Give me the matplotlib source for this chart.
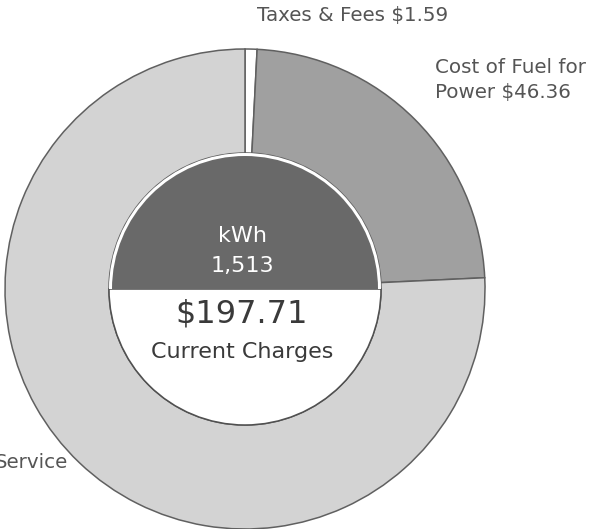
import matplotlib.pyplot as plt
from matplotlib.patches import Wedge

# bill breakdown
labels = ["Taxes & Fees", "Cost of Fuel for\nPower", "Service"]
amounts = [1.59, 46.36, 149.76]
total_charges = 197.71
kwh_used = 1513

ring_colors = ["#ffffff", "#a0a0a0", "#d3d3d3"]

W, H = 598, 529
fig = plt.figure(figsize=(W / 100, H / 100), dpi=100)
ax = fig.add_axes([0, 0, 1, 1])

cx, cy = 245, H - 289
r_out = 240
r_in = 136

ax.pie(amounts, radius=r_out, center=(cx, cy), startangle=90,
       counterclock=False, colors=ring_colors, frame=True,
       wedgeprops=dict(width=r_out - r_in, edgecolor="#606060", linewidth=1.1))
ax.set_xlim(0, W)
ax.set_ylim(0, H)
ax.set_aspect("equal")
ax.axis("off")

# centre disc: dark top half for usage, white bottom half for the total
ax.add_patch(Wedge((cx, cy), r_in, 180, 360, facecolor="white",
                   edgecolor="#505050", linewidth=1.1, zorder=3))
ax.add_patch(Wedge((cx, cy), r_in, 0, 180, facecolor="white",
                   edgecolor="none", zorder=3))
ax.add_patch(Wedge((cx, cy), r_in - 3, 0, 180, facecolor="#696969",
                   edgecolor="none", zorder=3))

font = "DejaVu Sans"
ax.text(cx - 3, H - 236, "kWh", ha="center", va="center", fontsize=16,
        color="white", family=font, zorder=4)
ax.text(cx - 3, H - 266, f"{kwh_used:,}", ha="center", va="center", fontsize=16,
        color="white", family=font, zorder=4)
ax.text(cx - 3, H - 314, f"${total_charges:,.2f}", ha="center", va="center",
        fontsize=23, color="#3a3a3a", family=font, zorder=4)
ax.text(cx - 3, H - 352, "Current Charges", ha="center", va="center",
        fontsize=16, color="#3a3a3a", family=font, zorder=4)

# slice labels
lbl = dict(fontsize=14.3, color="#555555", family=font)
ax.text(353, H - 15, f"{labels[0]} ${amounts[0]:.2f}", ha="center", va="center", **lbl)
ax.text(435, H - 80, f"{labels[1]} ${amounts[1]:.2f}", ha="left", va="center",
        linespacing=1.4, **lbl)
ax.text(68, H - 462, labels[2], ha="right", va="center", **lbl)

fig.savefig("out.png", dpi=100)
